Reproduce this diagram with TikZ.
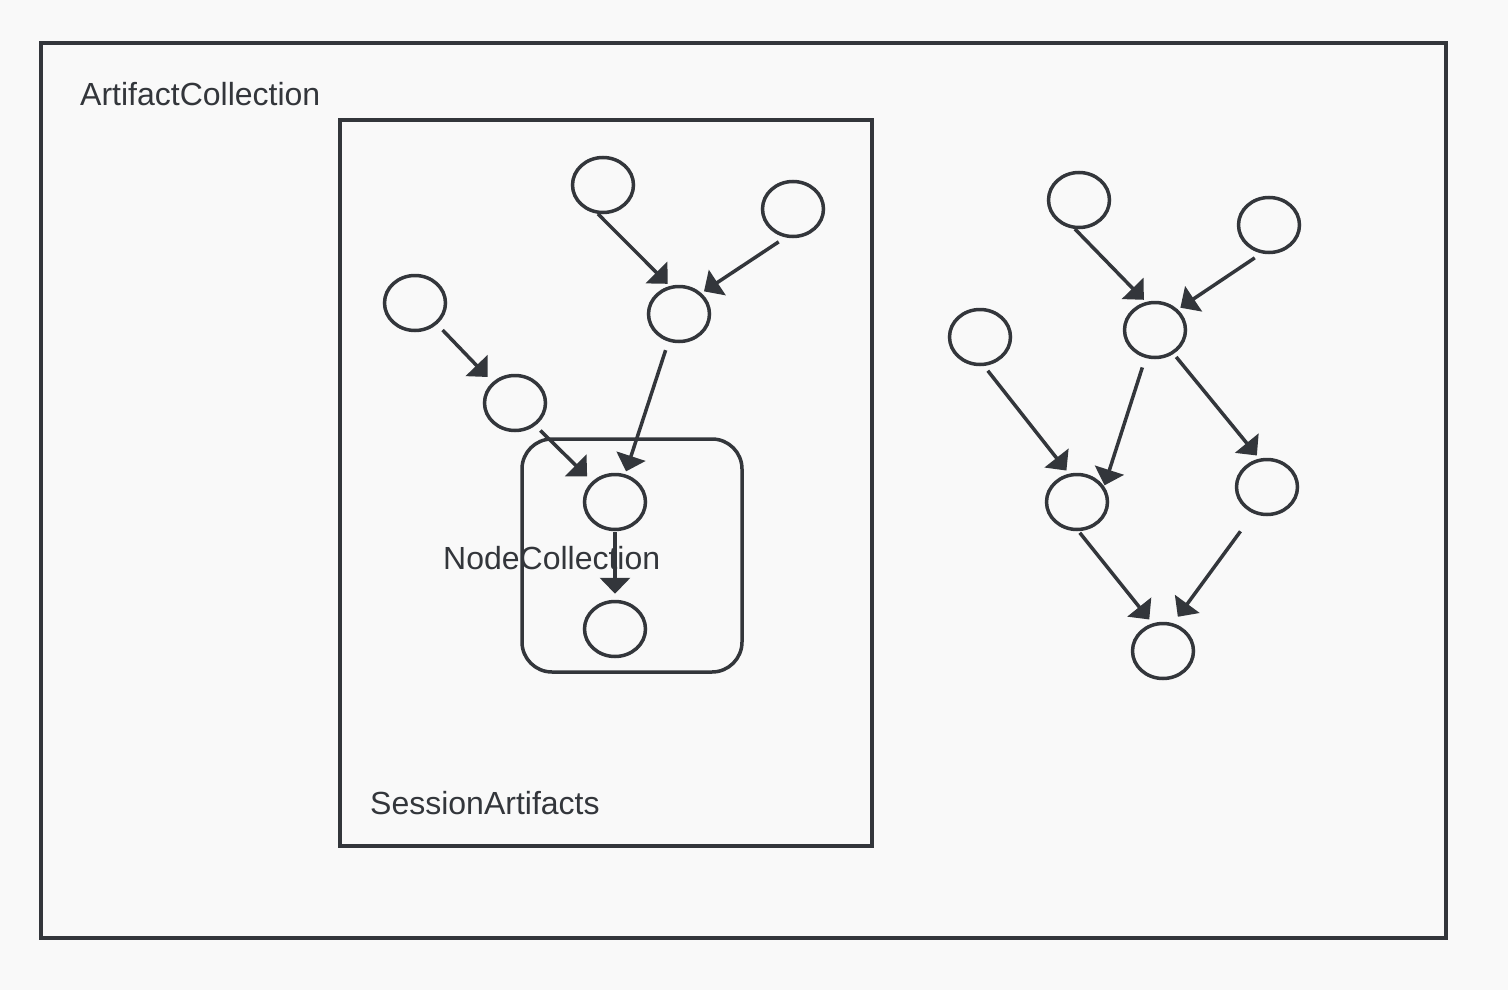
\documentclass[tikz,border=0pt]{standalone}
\usepackage{fontspec}
\setmainfont{Liberation Sans}
\usetikzlibrary{shapes.geometric, arrows.meta}

\definecolor{ink}{HTML}{33363B}
\definecolor{paper}{HTML}{F9F9F9}

\begin{document}
\begin{tikzpicture}[
        x=1pt, y=-1pt,
        obj/.style={ellipse, draw=ink, line width=3.5pt, minimum width=61pt, minimum height=55pt, inner sep=0pt},
        arr/.style={draw=ink, line width=3.5pt, -{Triangle[length=16pt, width=30pt]}},
        box/.style={draw=ink, line width=3.5pt},
        lbl/.style={text=ink, inner sep=0pt, anchor=base west, font=\fontsize{32}{38}\selectfont}
        ]

        \fill[paper] (0,0) rectangle (1508,990);
        \useasboundingbox (0,0) rectangle (1508,990);

        % containers
        \draw[box] (41,43) rectangle (1446,938);
        \draw[box] (340,120) rectangle (872,846);
        \draw[box, rounded corners=30pt] (522,439) rectangle (742,672);

        \node[lbl] (artcoll) at (80,106) {ArtifactCollection};
        \node[lbl] (sessart) at (370,814) {SessionArtifacts};

        % session graph
        \node[obj] (A1) at (603,185) {};
        \node[obj] (A2) at (793,209) {};
        \node[obj] (A3) at (679,314) {};
        \node[obj] (A4) at (415,303) {};
        \node[obj] (A5) at (515,403) {};
        \node[obj] (A6) at (615,502) {};
        \node[obj] (A7) at (615,629) {};

        \draw[arr, shorten >=3pt] (A1.-100) -- (A3.108);
        \draw[arr, shorten <=8pt, shorten >=3pt] (A2.-105) -- (A3.43);
        \draw[arr, shorten <=8pt, shorten >=7pt] (A4.-44) -- (A5.137);
        \draw[arr, shorten <=7pt, shorten >=7pt] (A5.-48) -- (A6.138);
        \draw[arr, shorten <=9pt, shorten >=3pt] (A3.-111) -- (A6.70);
        \draw[arr, shorten <=1pt, shorten >=6pt] (A6.south) -- (A7.north);

        \node[lbl] (nodecoll) at (443,569) {NodeCollection};

        % other graph
        \node[obj] (B1) at (1079,200) {};
        \node[obj] (B2) at (1269,225) {};
        \node[obj] (B3) at (1155,330) {};
        \node[obj] (B4) at (980,337) {};
        \node[obj] (B5) at (1077,502) {};
        \node[obj] (B6) at (1267,487) {};
        \node[obj] (B7) at (1163,651) {};

        \draw[arr, shorten >=3pt] (B1.-98) -- (B3.108);
        \draw[arr, shorten <=8pt, shorten >=3pt] (B2.-105) -- (B3.42);
        \draw[arr, shorten <=6pt, shorten >=4pt] (B4.-82) -- (B5.106);
        \draw[arr, shorten <=10pt, shorten >=1pt] (B3.-109) -- (B5.30);
        \draw[arr, shorten <=4pt, shorten >=4pt] (B3.-52) -- (B6.105);
        \draw[arr, shorten <=2pt, shorten >=5pt] (B5.-87) -- (B7.111);
        \draw[arr, shorten <=22pt, shorten >=8pt] (B6.-117) -- (B7.70);
    \end{tikzpicture}
\end{document}
